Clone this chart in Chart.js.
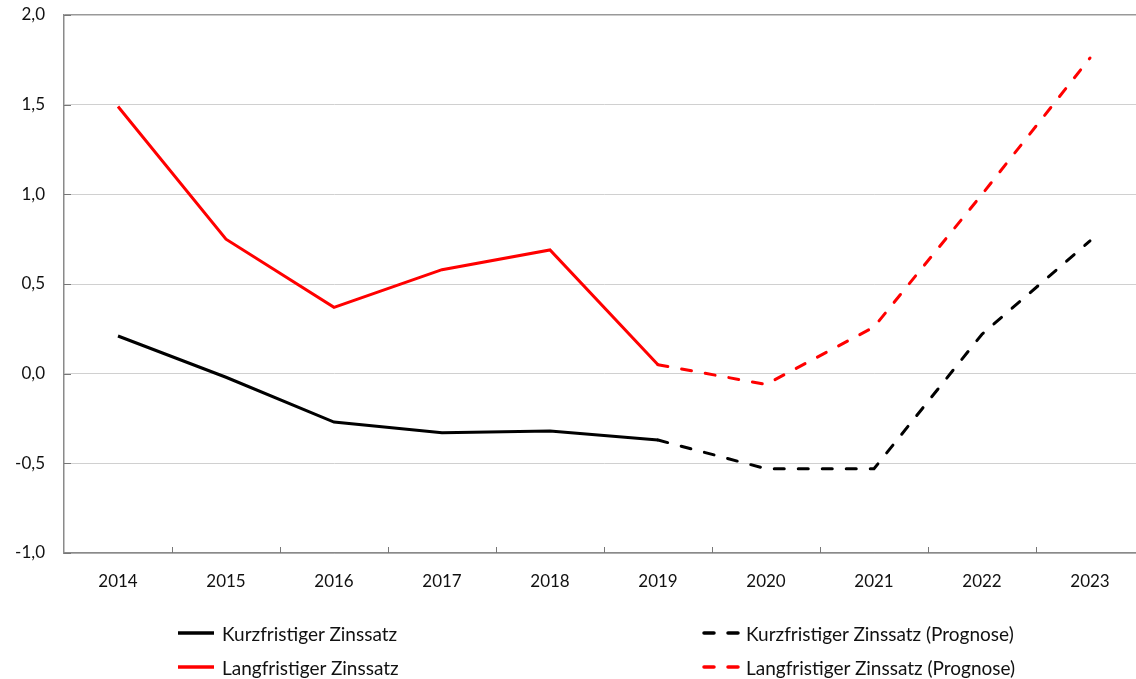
<!DOCTYPE html>
<html>
<head>
<meta charset="utf-8">
<script src="https://cdn.jsdelivr.net/npm/chart.js@4.4.1/dist/chart.umd.min.js"></script>
<style>
  html, body { margin: 0; padding: 0; background: #fff; overflow: hidden; width: 1136px; height: 679px; }
  #wrap { position: relative; width: 1150px; height: 679px; }
  #zinsChart { position: absolute; left: 0; top: 0; }
  .legItem { position: absolute; display: flex; align-items: center; font-family: Lato, "Open Sans", sans-serif; font-size: 19px; color: #111; white-space: nowrap; }
  .legItem svg { margin-right: 6px; }
</style>
</head>
<body>
<div id="wrap">
  <canvas id="zinsChart" width="1150" height="679"></canvas>
  <div id="legend"></div>
</div>
<script>
const labels = ["2014", "2015", "2016", "2017", "2018", "2019", "2020", "2021", "2022", "2023"];
const kurzfristig = [0.21, -0.02, -0.27, -0.33, -0.32, -0.37, null, null, null, null];
const langfristig = [1.49, 0.75, 0.37, 0.58, 0.69, 0.05, null, null, null, null];
const kurzPrognose = [null, null, null, null, null, -0.37, -0.53, -0.53, 0.22, 0.74];
const langPrognose = [null, null, null, null, null, 0.05, -0.06, 0.26, 1.0, 1.76];

const fontFamily = 'Lato, "Open Sans", sans-serif';
const dash = [10, 14];

// kleine Striche nach innen, wie im Original
const tickMarks = {
  id: "tickMarks",
  afterDraw(chart) {
    const { ctx, scales: { x, y } } = chart;
    ctx.save();
    ctx.strokeStyle = "#777";
    ctx.lineWidth = 1;
    ctx.beginPath();
    for (let i = 1; i < labels.length; i++) {
      const px = Math.round(x.getPixelForValue(i - 0.5)) + 0.5;
      ctx.moveTo(px, y.bottom);
      ctx.lineTo(px, y.bottom - 6);
    }
    y.ticks.forEach(({ value }) => {
      const py = Math.round(y.getPixelForValue(value)) + 0.5;
      ctx.moveTo(x.left, py);
      ctx.lineTo(x.left + 7, py);
    });
    ctx.stroke();
    ctx.restore();
  },
};

const config = {
  type: "line",
  data: {
    labels: labels,
    datasets: [
      { label: "Kurzfristiger Zinssatz", data: kurzfristig, borderColor: "#000000", borderWidth: 3 },
      { label: "Langfristiger Zinssatz", data: langfristig, borderColor: "#ff0000", borderWidth: 3 },
      { label: "Kurzfristiger Zinssatz (Prognose)", data: kurzPrognose, borderColor: "#000000", borderWidth: 3, borderDash: dash, borderCapStyle: "round" },
      { label: "Langfristiger Zinssatz (Prognose)", data: langPrognose, borderColor: "#ff0000", borderWidth: 3, borderDash: dash, borderCapStyle: "round" },
    ],
  },
  options: {
    responsive: false,
    animation: false,
    spanGaps: false,
    elements: { point: { radius: 0, hoverRadius: 0 }, line: { tension: 0 } },
    layout: { padding: { left: 0, right: 6, top: 15, bottom: 86 } },
    plugins: { legend: { display: false }, tooltip: { enabled: false } },
    scales: {
      x: {
        offset: true,
        grid: { display: false, drawTicks: false },
        border: { display: true, color: "#8a8a8a", width: 1.5 },
        ticks: { color: "#111", padding: 18, font: { family: fontFamily, size: 17 }, maxRotation: 0 },
        afterFit(scale) { scale.height = 40; },
      },
      y: {
        min: -1,
        max: 2,
        ticks: {
          stepSize: 0.5,
          color: "#111",
          padding: 3,
          font: { family: fontFamily, size: 17 },
          callback: (v) => v.toFixed(1).replace(".", ","),
        },
        grid: {
          drawTicks: true,
          tickLength: 16,
          tickColor: "rgba(0,0,0,0)",
          color: (c) => (c.tick && c.tick.value === 2 ? "#999" : "#d0d0d0"),
          lineWidth: (c) => (c.tick && c.tick.value === 2 ? 1.5 : 1),
        },
        border: { display: true, color: "#8a8a8a", width: 1.5 },
        afterFit(scale) { scale.width = 64; },
      },
    },
  },
  plugins: [tickMarks],
};

const chart = new Chart(document.getElementById("zinsChart"), config);

// Legende in zwei Spalten
const legendPos = [[178, 633], [178, 667], [702, 633], [702, 667]];
const legend = document.getElementById("legend");
chart.data.datasets.forEach((ds, i) => {
  const item = document.createElement("div");
  item.className = "legItem";
  item.style.left = legendPos[i][0] + "px";
  item.style.top = (legendPos[i][1] - 12) + "px";
  item.style.height = "24px";
  const dashAttr = ds.borderDash ? ' stroke-dasharray="10 14" stroke-linecap="round"' : "";
  const x1 = ds.borderDash ? 2 : 0;
  item.innerHTML =
    `<svg width="38" height="6"><line x1="${x1}" y1="3" x2="36" y2="3" stroke="${ds.borderColor}" stroke-width="3.5"${dashAttr}/></svg>` +
    `<span>${ds.label}</span>`;
  legend.appendChild(item);
});
</script>
</body>
</html>
